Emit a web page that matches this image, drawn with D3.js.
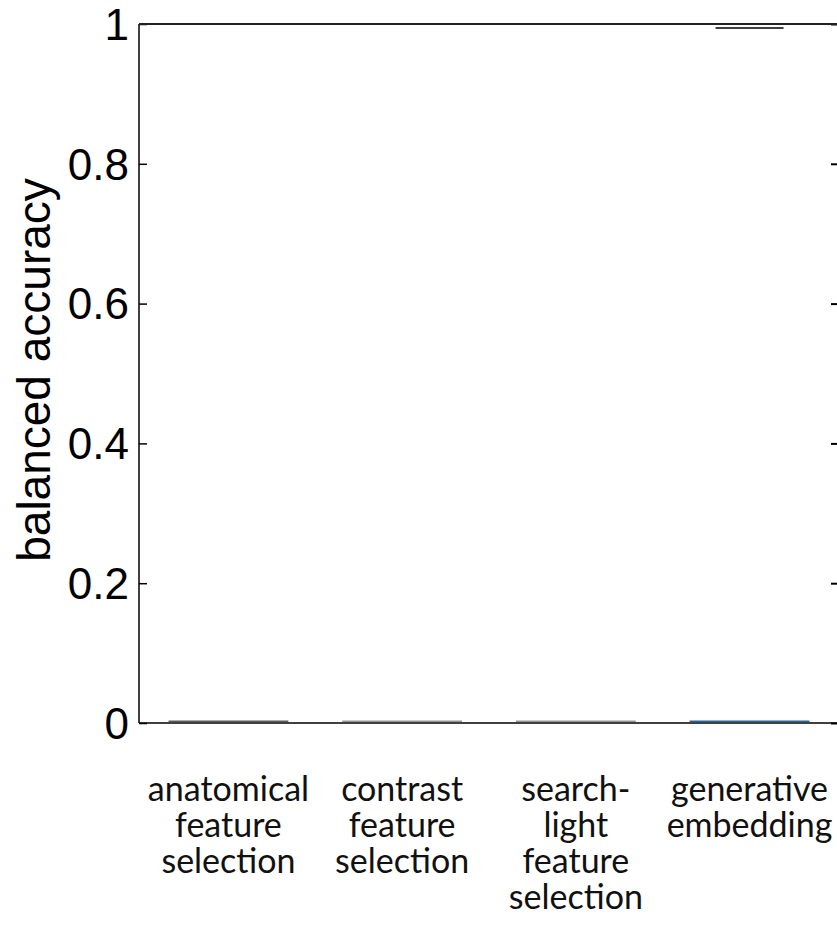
<!DOCTYPE html>
<html>
<head>
<meta charset="utf-8">
<script src="https://cdn.jsdelivr.net/npm/d3@7"></script>
<style>
  body { margin: 0; background: #fff; }
</style>
</head>
<body>
<svg id="chart"></svg>
<script>
// data
const categories = ['anatomical feature selection', 'contrast feature selection', 'search-light feature selection', 'generative embedding'];
const labelLines = [
  ['anatomical', 'feature', 'selection'],
  ['contrast', 'feature', 'selection'],
  ['search-', 'light', 'feature', 'selection'],
  ['generative', 'embedding']
];
const accuracy = [0, 0, 0, 0];
const upperMark = [null, null, null, 0.995];
const barColors = ['#5a5a5a', '#959595', '#959595', '#0072bd'];
const yTicks = [0, 0.2, 0.4, 0.6, 0.8, 1];

const W = 837, H = 940;
const margin = { left: 139, right: 839, top: 24, bottom: 723 };

const svg = d3.select('#chart').attr('width', W).attr('height', H);

const x = d3.scaleBand()
  .domain(categories)
  .range([margin.left, margin.right])
  .paddingInner(0.31)
  .paddingOuter(0.17);

const y = d3.scaleLinear().domain([0, 1]).range([margin.bottom, margin.top]);

// bars (values ~0 show up as a flat line on the axis)
svg.append('g')
  .selectAll('rect')
  .data(categories)
  .join('rect')
  .attr('x', d => x(d))
  .attr('y', (d, i) => y(accuracy[i]) - 2.5)
  .attr('width', x.bandwidth())
  .attr('height', (d, i) => y(0) - y(accuracy[i]) + 1.5)
  .attr('fill', (d, i) => barColors[i]);

// upper marker line
svg.append('g')
  .selectAll('line')
  .data(categories.filter((d, i) => upperMark[i] != null))
  .join('line')
  .attr('x1', d => x(d) + x.bandwidth() / 2 - 34)
  .attr('x2', d => x(d) + x.bandwidth() / 2 + 34)
  .attr('y1', d => y(upperMark[categories.indexOf(d)]) + 0.5)
  .attr('y2', d => y(upperMark[categories.indexOf(d)]) + 0.5)
  .attr('stroke', '#000')
  .attr('stroke-width', 1.5);

// left axis
const yAxisL = svg.append('g')
  .attr('transform', `translate(${margin.left},0)`)
  .call(d3.axisRight(y).tickValues(yTicks).tickSize(8).tickFormat(''));
yAxisL.select('.domain').remove();
yAxisL.selectAll('line').attr('stroke', '#000').attr('stroke-width', 1.5);

// right axis
const yAxisR = svg.append('g')
  .attr('transform', `translate(${margin.right},0)`)
  .call(d3.axisLeft(y).tickValues(yTicks).tickSize(8).tickFormat(''));
yAxisR.select('.domain').remove();
yAxisR.selectAll('line').attr('stroke', '#000').attr('stroke-width', 2);

// box
svg.append('line').attr('x1', margin.left).attr('x2', margin.left).attr('y1', margin.top).attr('y2', margin.bottom)
  .attr('stroke', '#000').attr('stroke-width', 1.5);
svg.append('line').attr('x1', margin.left).attr('x2', margin.right).attr('y1', margin.top).attr('y2', margin.top)
  .attr('stroke', '#222').attr('stroke-width', 2);
svg.append('line').attr('x1', margin.left).attr('x2', margin.right).attr('y1', margin.bottom).attr('y2', margin.bottom)
  .attr('stroke', '#000').attr('stroke-width', 1.5);

// tick labels
svg.append('g')
  .selectAll('text')
  .data(yTicks)
  .join('text')
  .attr('x', 129)
  .attr('y', d => y(d))
  .attr('dy', '0.36em')
  .attr('text-anchor', 'end')
  .style('font-family', '"Liberation Sans", Arial, sans-serif')
  .style('font-size', '44px')
  .text(d => d3.format('~g')(d));

// y label
svg.append('text')
  .attr('transform', `translate(50,370) rotate(-90)`)
  .attr('text-anchor', 'middle')
  .style('font-family', '"Liberation Sans", Arial, sans-serif')
  .style('font-size', '46px')
  .text('balanced accuracy');

// category labels
const xl = svg.append('g')
  .selectAll('text')
  .data(categories)
  .join('text')
  .attr('x', d => x(d) + x.bandwidth() / 2)
  .attr('y', 801)
  .attr('text-anchor', 'middle')
  .style('font-family', 'Lato, sans-serif')
  .style('font-size', '34px')
  .style('fill', '#111');

xl.selectAll('tspan')
  .data((d, i) => labelLines[i])
  .join('tspan')
  .attr('x', function () { return d3.select(this.parentNode).attr('x'); })
  .attr('dy', (d, i) => i === 0 ? 0 : 36)
  .text(d => d);
</script>
</body>
</html>
